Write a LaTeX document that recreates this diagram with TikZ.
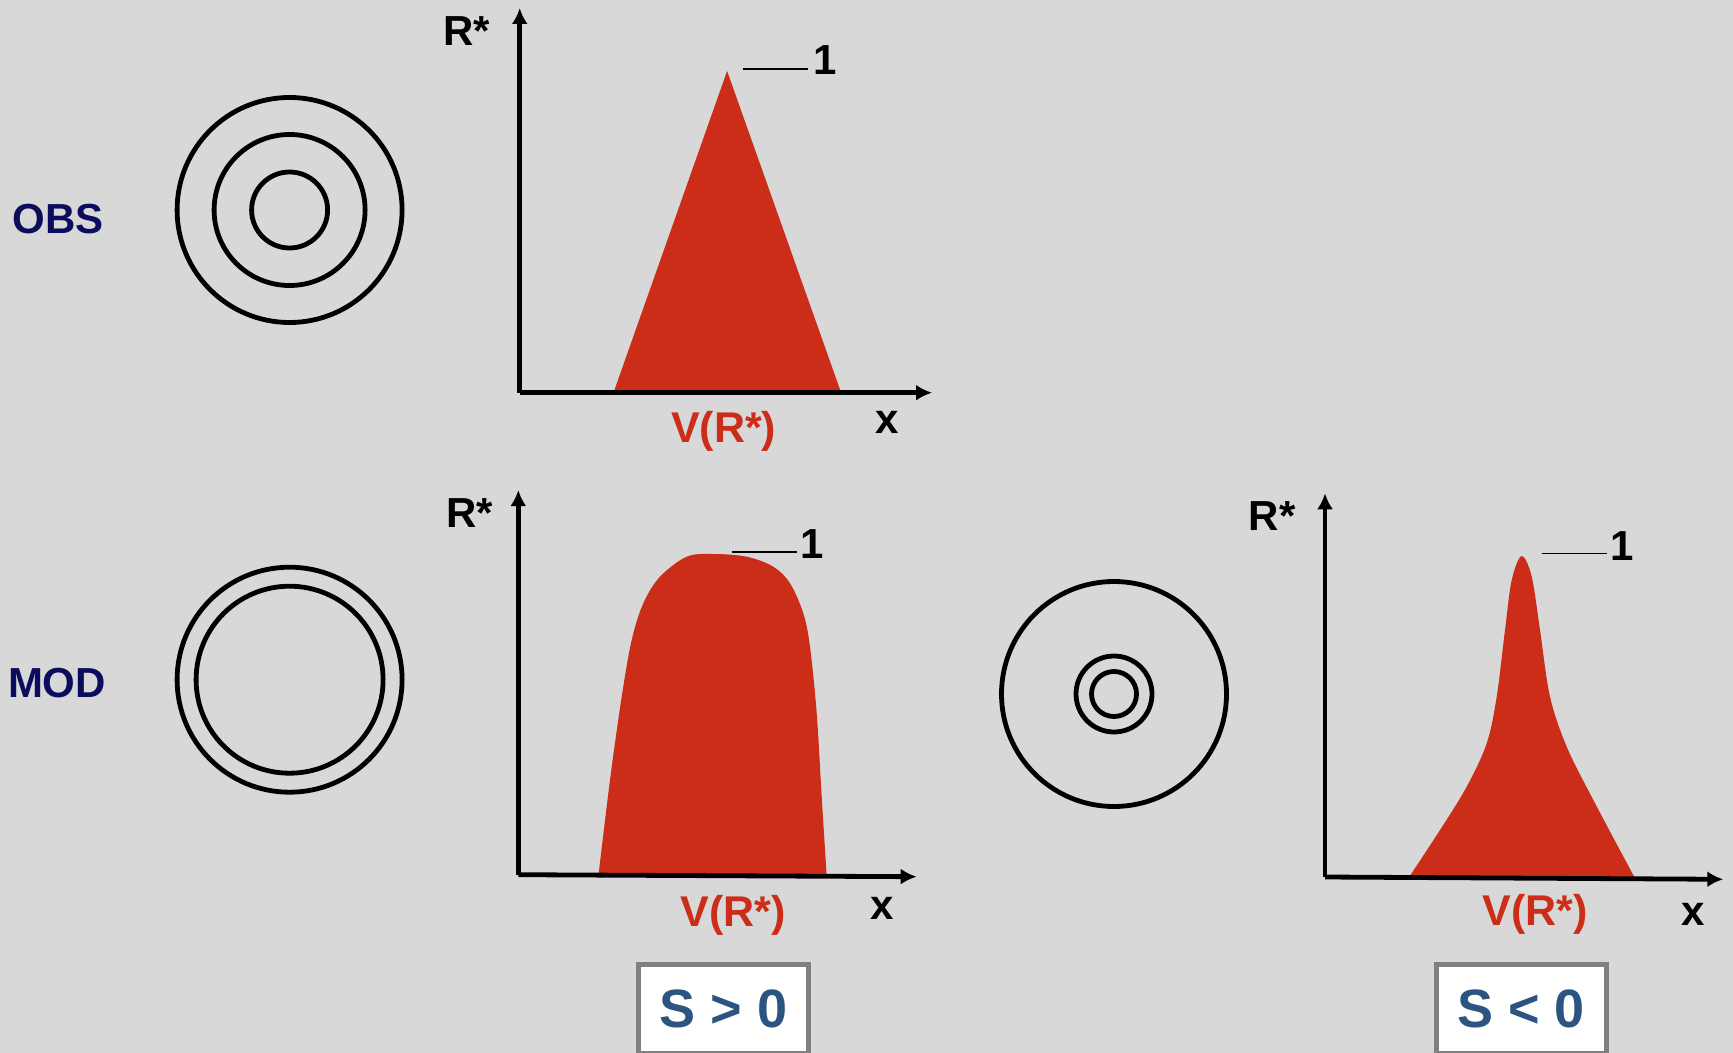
\documentclass[tikz,border=0pt]{standalone}
\usepackage{fontspec}
\setmainfont{Liberation Sans}
\usetikzlibrary{arrows.meta}
\definecolor{bg}{HTML}{D8D8D8}
\definecolor{curvered}{HTML}{CC2D18}
\definecolor{navy}{HTML}{0C0C5C}
\definecolor{sblue}{HTML}{2B5580}
\definecolor{boxgray}{HTML}{808080}
\begin{document}
\begin{tikzpicture}[x=0.5pt,y=-0.5pt,
  axis/.style={line width=2.4pt,-{Latex[length=8pt,width=8pt]}},
  ring/.style={line width=2.4pt},
  tick/.style={line width=0.8pt},
  lbl/.style={inner sep=0pt,font=\bfseries\fontsize{21}{21}\selectfont},
  vlbl/.style={inner sep=0pt,text=curvered,font=\bfseries\fontsize{21.5}{21.5}\selectfont},
  rowlbl/.style={inner sep=0pt,text=navy,font=\bfseries\fontsize{21}{21}\selectfont},
  sbox/.style={draw=boxgray,line width=2.5pt,fill=white,text=sblue,minimum width=84.8pt,minimum height=44.2pt,inner sep=0pt,font=\bfseries\fontsize{27}{27}\selectfont},
  peak/.style={fill=curvered}]
\fill[bg] (0,0) rectangle (1733,1053);
\useasboundingbox (0,0) rectangle (1733,1053);

% row labels
\node[rowlbl] (obs) at (58,219) {OBS};
\node[rowlbl] (mod) at (57,683) {MOD};

% circles
\coordinate (c1) at (289.6,210);
\draw[ring] (c1) circle[radius=112.5] (c1) circle[radius=75.5] (c1) circle[radius=38];
\coordinate (c2) at (289.6,679.7);
\draw[ring] (c2) circle[radius=112.5] (c2) circle[radius=93.5];
\coordinate (c3) at (1114,694);
\draw[ring] (c3) circle[radius=112.5] (c3) circle[radius=38] (c3) circle[radius=22.5];

% ---------- top chart ----------
\fill[peak,line join=round] (613.2,393.5) -- (727.1,71) -- (841.4,393.5) -- cycle;
\coordinate (o1) at (519.7,392.7);
\coordinate (y1) at (519.7,8);
\coordinate (x1) at (932.1,392.7);
\draw[axis] (o1) -- (y1);
\draw[axis] (o1) -- (x1);
\coordinate (t1a) at (742.9,69.3);
\coordinate (t1b) at (807.9,69.3);
\draw[tick] (t1a) -- (t1b);
\node[lbl] (one1) at (825.4,60) {1};
\node[lbl] (r1) at (467,31) {R*};
\node[vlbl] (v1) at (723.6,431) {V(R*)};
\node[lbl] (xl1) at (887,422) {x};

% ---------- middle-left chart ----------
\fill[peak] (598.3,877) -- plot[smooth,tension=0.55] coordinates {(598.3,876.7) (610,780) (621.7,696.7) (631.7,640) (643.3,603.3) (660,576.7) (686.7,556.7) (713.3,554) (746.7,556.7) (773.3,566.7) (790,583.3) (803.3,613.3) (810,646.7) (816.7,713.3) (821.7,796.7) (826.7,876.7)} -- cycle;
\coordinate (o2) at (518.3,874.7);
\coordinate (y2) at (518.3,490);
\coordinate (x2) at (916.7,876.7);
\draw[axis] (o2) -- (y2);
\draw[axis] (o2) -- (x2);
\coordinate (t2a) at (731.7,551.7);
\coordinate (t2b) at (796.7,551.7);
\draw[tick] (t2a) -- (t2b);
\node[lbl] (one2) at (812,544) {1};
\node[lbl] (r2) at (470,513) {R*};
\node[vlbl] (v2) at (733,915) {V(R*)};
\node[lbl] (xl2) at (882,908) {x};

% ---------- right chart ----------
\fill[peak] (1408.3,878.5) -- plot[smooth,tension=0.55] coordinates {(1408.3,878.3) (1440,830) (1466.7,786.7) (1486.7,743.3) (1496.7,696.7) (1505,630) (1511.7,580) (1521.7,556) (1531.7,576.7) (1540,630) (1550,696.7) (1566.7,746.7) (1593.3,800) (1635,878.3)} -- cycle;
\coordinate (o3) at (1325,877);
\coordinate (y3) at (1325,493.3);
\coordinate (x3) at (1723.3,879.3);
\draw[axis] (o3) -- (y3);
\draw[axis] (o3) -- (x3);
\coordinate (t3a) at (1541.7,553.3);
\coordinate (t3b) at (1606.7,553.3);
\draw[tick] (t3a) -- (t3b);
\node[lbl] (one3) at (1622,546) {1};
\node[lbl] (r3) at (1272,516) {R*};
\node[vlbl] (v3) at (1535,914) {V(R*)};
\node[lbl] (xl3) at (1693,914) {x};

% ---------- sign boxes ----------
\node[sbox] (spos) at (723.3,1009) {S > 0};
\node[sbox] (sneg) at (1521.2,1009) {S < 0};
\end{tikzpicture}
\end{document}
